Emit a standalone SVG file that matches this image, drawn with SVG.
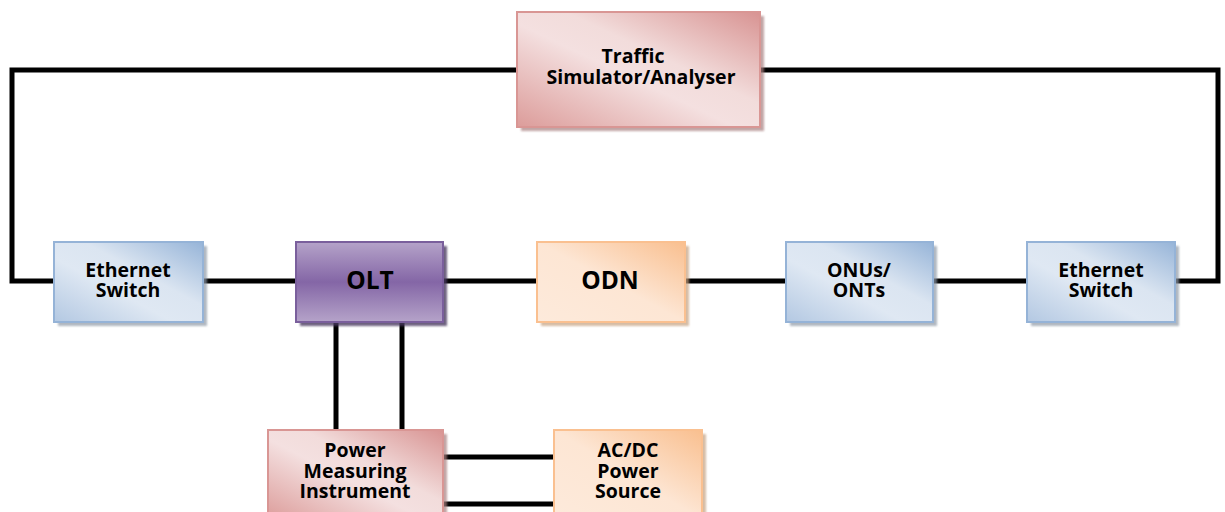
<svg xmlns="http://www.w3.org/2000/svg" width="1225" height="512" viewBox="0 0 1225 512">
<defs>
<linearGradient id="gPink" x1="0" y1="1" x2="1" y2="0">
<stop offset="0" stop-color="#dc9c9a"/><stop offset="0.45" stop-color="#f4e0e0"/><stop offset="0.6" stop-color="#f2dcdb"/><stop offset="1" stop-color="#d89392"/>
</linearGradient>
<linearGradient id="gBlue" x1="0" y1="1" x2="1" y2="0">
<stop offset="0" stop-color="#b3c8e2"/><stop offset="0.4" stop-color="#dfe8f3"/><stop offset="0.6" stop-color="#dbe5f1"/><stop offset="1" stop-color="#96b4d8"/>
</linearGradient>
<linearGradient id="gOrange" x1="0" y1="1" x2="1" y2="0">
<stop offset="0" stop-color="#fdeadb"/><stop offset="0.5" stop-color="#fde6d4"/><stop offset="1" stop-color="#f9bf8f"/>
</linearGradient>
<linearGradient id="gPurple" x1="0" y1="0" x2="0" y2="1">
<stop offset="0" stop-color="#b5a3c9"/><stop offset="0.5" stop-color="#8466a6"/><stop offset="1" stop-color="#b5a3c9"/>
</linearGradient>
<filter id="blur" x="-10%" y="-10%" width="120%" height="120%"><feGaussianBlur stdDeviation="1"/></filter>
</defs>
<style>
.lbl{font-family:"Open Sans",sans-serif;font-weight:bold;font-size:19.5px;fill:#000;text-anchor:middle;font-variant-ligatures:none}
.big{font-size:24.5px}
.conn{stroke:#000;stroke-width:5;fill:none}
.pink{fill:url(#gPink);stroke:#d99694;stroke-width:2}
.blue{fill:url(#gBlue);stroke:#95b3d7;stroke-width:2}
.orange{fill:url(#gOrange);stroke:#fac090;stroke-width:2}
.purple{fill:url(#gPurple);stroke:#7a5f9c;stroke-width:2}
.shP{fill:#a88080;opacity:0.7}
.shB{fill:#8f99a6;opacity:0.7}
.shO{fill:#c4a080;opacity:0.7}
.shU{fill:#4a3a5e;opacity:0.8}
</style>
<g id="connectors">
<polyline class="conn" points="517,70 12,70 12,281 54,281"/>
<polyline class="conn" points="760,70 1218,70 1218,281 1175,281"/>
<line class="conn" x1="203" y1="281" x2="296" y2="281"/>
<line class="conn" x1="443" y1="281" x2="537" y2="281"/>
<line class="conn" x1="685" y1="281" x2="786" y2="281"/>
<line class="conn" x1="933" y1="281" x2="1027" y2="281"/>
<line class="conn" x1="336" y1="322" x2="336" y2="430"/>
<line class="conn" x1="402" y1="322" x2="402" y2="430"/>
<line class="conn" x1="443" y1="457" x2="554" y2="457"/>
<line class="conn" x1="443" y1="504" x2="554" y2="504"/>
</g>
<g id="traffic">
<rect class="shP" x="521" y="16" width="243" height="115" filter="url(#blur)"/>
<rect class="pink" x="517" y="12" width="243" height="115"/>
<text class="lbl" x="633" y="63">Traffic</text>
<text class="lbl" x="641" y="84">Simulator/Analyser</text>
</g>
<g id="eth1">
<rect class="shB" x="58" y="246" width="149" height="80" filter="url(#blur)"/>
<rect class="blue" x="54" y="242" width="149" height="80"/>
<text class="lbl" x="128" y="277">Ethernet</text>
<text class="lbl" x="128" y="297">Switch</text>
</g>
<g id="olt">
<rect class="shU" x="300" y="246" width="147" height="80" filter="url(#blur)"/>
<rect class="purple" x="296" y="242" width="147" height="80"/>
<text class="lbl big" x="370" y="289">OLT</text>
</g>
<g id="odn">
<rect class="shO" x="541" y="246" width="148" height="80" filter="url(#blur)"/>
<rect class="orange" x="537" y="242" width="148" height="80"/>
<text class="lbl big" x="610" y="289">ODN</text>
</g>
<g id="onu">
<rect class="shB" x="790" y="246" width="147" height="80" filter="url(#blur)"/>
<rect class="blue" x="786" y="242" width="147" height="80"/>
<text class="lbl" x="859" y="277">ONUs/</text>
<text class="lbl" x="859" y="297">ONTs</text>
</g>
<g id="eth2">
<rect class="shB" x="1031" y="246" width="148" height="80" filter="url(#blur)"/>
<rect class="blue" x="1027" y="242" width="148" height="80"/>
<text class="lbl" x="1101" y="277">Ethernet</text>
<text class="lbl" x="1101" y="297">Switch</text>
</g>
<g id="power">
<rect class="shP" x="272" y="434" width="175" height="90" filter="url(#blur)"/>
<rect class="pink" x="268" y="430" width="175" height="90"/>
<text class="lbl" x="355" y="457">Power</text>
<text class="lbl" x="355" y="478">Measuring</text>
<text class="lbl" x="355" y="498">Instrument</text>
</g>
<g id="acdc">
<rect class="shO" x="558" y="434" width="148" height="90" filter="url(#blur)"/>
<rect class="orange" x="554" y="430" width="148" height="90"/>
<text class="lbl" x="628" y="457">AC/DC</text>
<text class="lbl" x="628" y="478">Power</text>
<text class="lbl" x="628" y="498">Source</text>
</g>
</svg>
